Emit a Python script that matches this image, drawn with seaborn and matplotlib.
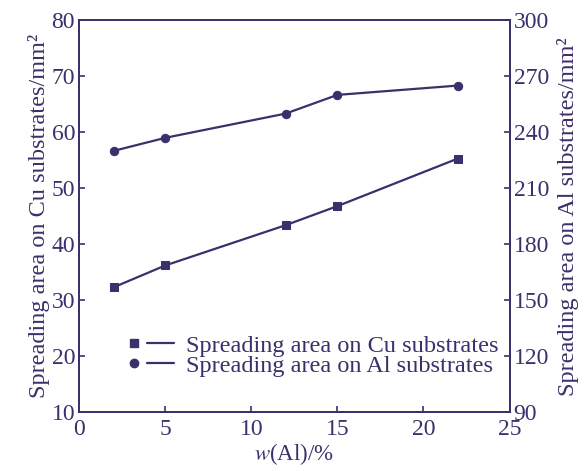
import numpy as np
import pandas as pd
import seaborn as sns
import matplotlib.pyplot as plt
from matplotlib.lines import Line2D
from matplotlib.legend_handler import HandlerTuple

# data
al_content = [2, 5, 12, 15, 22]
area_cu = [32.3, 36.2, 43.4, 46.8, 55.3]
area_al = [230, 237, 250, 260, 265]

ink = "#3d2f6b"

sns.set_style("ticks")
plt.rcParams["font.family"] = ["Liberation Serif", "DejaVu Serif"]
plt.rcParams["mathtext.fontset"] = "stix"

df = pd.DataFrame({"w": al_content, "cu": area_cu, "al": area_al})

fig, ax = plt.subplots(figsize=(5.87, 4.71), dpi=100)
fig.subplots_adjust(left=0.135, right=0.868, top=0.957, bottom=0.125)
ax2 = ax.twinx()

sns.lineplot(data=df, x="w", y="cu", ax=ax, color=ink, marker="s",
             markersize=6, linewidth=1.6, markeredgecolor=ink)
sns.lineplot(data=df, x="w", y="al", ax=ax2, color=ink, marker="o",
             markersize=6, linewidth=1.6, markeredgecolor=ink)

ax.set_xlim(0, 25)
ax.set_ylim(10, 80)
ax2.set_ylim(90, 300)
ax.set_xticks(np.arange(0, 26, 5))
ax.set_yticks(np.arange(10, 81, 10))
ax2.set_yticks(np.arange(90, 301, 30))

for a in (ax, ax2):
    for s in a.spines.values():
        s.set_color(ink)
        s.set_linewidth(1.3)
    a.tick_params(direction="in", colors=ink, labelsize=17, width=1.2, length=4, pad=3)
ax.tick_params(axis="x", pad=5)

ax.set_xlabel("$\\mathit{w}$(Al)/%", fontsize=16.5, color=ink, labelpad=1)
ax.set_ylabel("Spreading area on Cu substrates/mm²", fontsize=17.5, color=ink, labelpad=1)
ax2.set_ylabel("Spreading area on Al substrates/mm²", fontsize=17.5, color=ink, labelpad=6)

sq = Line2D([], [], color=ink, marker="s", linestyle="none", markersize=6)
ci = Line2D([], [], color=ink, marker="o", linestyle="none", markersize=6)
ln = Line2D([], [], color=ink, linewidth=1.6)
ax.legend([(sq, ln), (ci, ln)],
          ["Spreading area on Cu substrates", "Spreading area on Al substrates"],
          handler_map={tuple: HandlerTuple(ndivide=None, pad=0.0)},
          loc="lower left", bbox_to_anchor=(0.045, 0.035), frameon=False,
          fontsize=17.5, handlelength=2.2, handletextpad=0.5, labelspacing=-0.1,
          labelcolor=ink)

fig.savefig("out.png", dpi=100)
